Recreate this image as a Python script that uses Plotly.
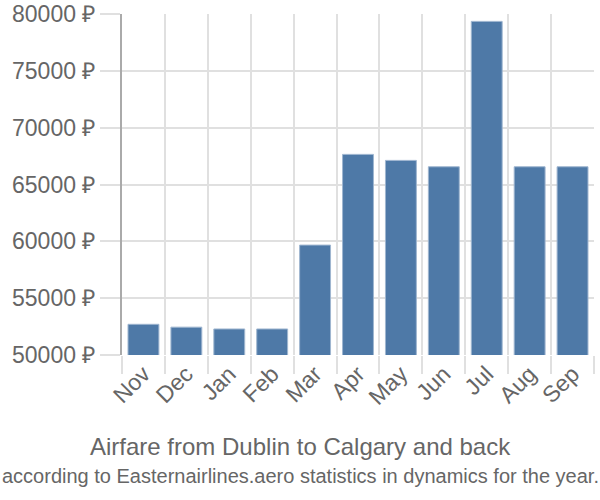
import plotly.graph_objects as go

months = ["Nov", "Dec", "Jan", "Feb", "Mar", "Apr", "May", "Jun", "Jul", "Aug", "Sep"]
prices = [52700, 52450, 52290, 52290, 59670, 67650, 67120, 66560, 79350, 66560, 66560]
y_ticks = [50000, 55000, 60000, 65000, 70000, 75000, 80000]
y_labels = [f"{v} ₽" for v in y_ticks]
title = "Airfare from Dublin to Calgary and back"
subtitle = "according to Easternairlines.aero statistics in dynamics for the year."

grid = "#e0e0e0"
txt = "#666666"
font = "Liberation Sans, Arial, sans-serif"

fig = go.Figure(go.Bar(
    x=months, y=prices,
    marker=dict(color="#4e79a7", line=dict(color="#9fb6d0", width=1)),
))
fig.update_layout(
    width=600, height=500,
    margin=dict(l=122, r=6, t=14, b=145, autoexpand=False),
    paper_bgcolor="white", plot_bgcolor="white",
    bargap=0.28,
    showlegend=False,
    font=dict(family=font, color=txt),
)
fig.update_xaxes(
    type="category",
    tickson="boundaries",
    showgrid=True, gridcolor=grid, gridwidth=2,
    ticks="outside", ticklen=18, tickcolor=grid, tickwidth=2,
    tickangle=-45,
    tickfont=dict(size=23, color=txt, family=font),
    showline=False,
    automargin=False,
)
fig.update_yaxes(
    range=[50000, 80000],
    tickvals=y_ticks, ticktext=y_labels,
    showgrid=True, gridcolor=grid, gridwidth=2,
    ticks="outside", ticklen=20, tickcolor=grid, tickwidth=2,
    tickfont=dict(size=23, color=txt, family=font),
    showline=True, linecolor="#aaaaaa", linewidth=2,
    zeroline=False,
    automargin=False,
)
plot_left, plot_right = 122, 594
plot_top, plot_bottom = 14, 355

def px_to_paper(px, py):
    return ((px - plot_left) / (plot_right - plot_left),
            (plot_bottom - py) / (plot_bottom - plot_top))

tx, ty = px_to_paper(300, 446)
fig.add_annotation(text=title, x=tx, xref="paper", xanchor="center",
                   y=ty, yref="paper", yanchor="middle", showarrow=False,
                   font=dict(size=24, color=txt, family=font))
sx, sy = px_to_paper(300, 476)
fig.add_annotation(text=subtitle, x=sx, xref="paper", xanchor="center",
                   y=sy, yref="paper", yanchor="middle", showarrow=False,
                   font=dict(size=20, color=txt, family=font))
fig.write_html("out.html")
